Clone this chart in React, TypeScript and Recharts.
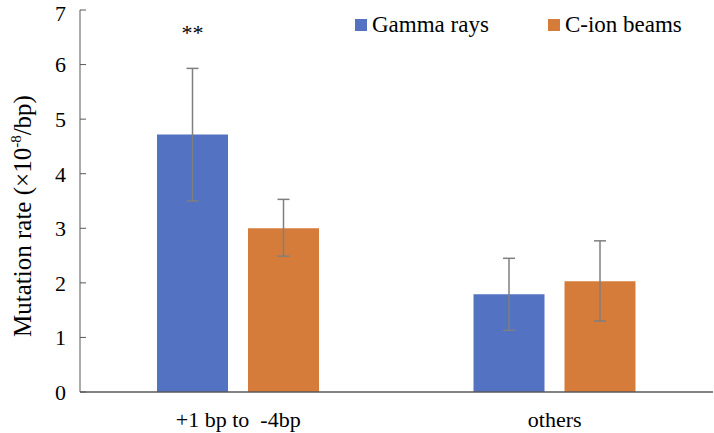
import React from 'react';
import { BarChart, Bar, XAxis, YAxis, ErrorBar, LabelList } from 'recharts';

const categories = ['+1 bp to\u00a0 -4bp', 'others'];
const gammaRates = [4.72, 1.79];
const gammaErrors: [number, number][] = [[1.22, 1.21], [0.66, 0.66]];
const carbonRates = [3.0, 2.03];
const carbonErrors: [number, number][] = [[0.51, 0.53], [0.73, 0.74]];
const significance = ['**', ''];
const yTicks = [0, 1, 2, 3, 4, 5, 6, 7];

const series = [
  { key: 'gamma', errKey: 'gammaErr', name: 'Gamma rays', color: '#5472C2' },
  { key: 'carbon', errKey: 'carbonErr', name: 'C-ion beams', color: '#D67C3A' },
];

const data = categories.map((c, i) => ({
  category: c,
  gamma: gammaRates[i],
  gammaErr: gammaErrors[i],
  carbon: carbonRates[i],
  carbonErr: carbonErrors[i],
  sig: significance[i],
}));

const FONT = 'Liberation Serif';
const AXIS_COLOR = '#595959';
const tickStyle = { fontFamily: FONT, fontSize: 22, fill: '#000' };

// legend and y title as plain html over the chart
function ChartLegend() {
  return (
    <div
      style={{
        position: 'absolute',
        left: 355,
        top: 12,
        display: 'flex',
        alignItems: 'center',
        fontFamily: FONT,
        fontSize: 23,
        lineHeight: '26px',
        whiteSpace: 'nowrap',
      }}
    >
      {series.map((s, i) => (
        <div key={s.key} style={{ display: 'flex', alignItems: 'center', marginLeft: i === 0 ? 0 : 59 }}>
          <span style={{ display: 'inline-block', width: 12, height: 12, background: s.color, marginRight: 5 }} />
          <span>{s.name}</span>
        </div>
      ))}
    </div>
  );
}

function YTitle() {
  return (
    <div
      style={{
        position: 'absolute',
        left: 22,
        top: 216,
        transform: 'translate(-50%, -50%) rotate(-90deg)',
        fontFamily: FONT,
        fontSize: 25,
        lineHeight: 1,
        whiteSpace: 'nowrap',
      }}
    >
      Mutation rate (×10<sup style={{ fontSize: 15, lineHeight: 0 }}>-8</sup>/bp)
    </div>
  );
}

export default function App() {
  return (
    <div style={{ position: 'absolute', left: 0, top: 0, width: 714, height: 433, background: '#fff' }}>
      <BarChart
        width={714}
        height={433}
        data={data}
        margin={{ top: 10, right: 1, bottom: 0, left: 0 }}
        barGap={20}
        barSize={71}
      >
        <XAxis
          dataKey="category"
          height={41}
          tickLine={false}
          tickSize={6}
          tickMargin={13}
          axisLine={{ stroke: AXIS_COLOR, strokeWidth: 1.5 }}
          tick={tickStyle}
          interval={0}
        />
        <YAxis
          width={80}
          domain={[0, 7]}
          ticks={yTicks}
          tickSize={-6}
          tickMargin={20}
          tickLine={{ stroke: AXIS_COLOR }}
          axisLine={{ stroke: AXIS_COLOR, strokeWidth: 1 }}
          tick={tickStyle}
        />
        {series.map((s, i) => (
          <Bar key={s.key} dataKey={s.key} name={s.name} fill={s.color} isAnimationActive={false}>
            <ErrorBar dataKey={s.errKey} width={6} stroke="#7F7F7F" strokeWidth={1.5} />
            {i === 0 && (
              <LabelList dataKey="sig" position="top" offset={94} fontFamily={FONT} fontSize={22} fill="#000" />
            )}
          </Bar>
        ))}
      </BarChart>
      <ChartLegend />
      <YTitle />
    </div>
  );
}
